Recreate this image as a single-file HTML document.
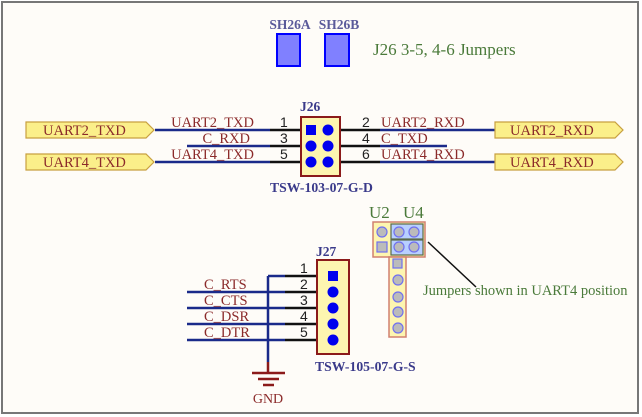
<!DOCTYPE html>
<html><head><style>body{margin:0;background:#fff}svg{display:block}</style></head><body>
<svg width="642" height="417" viewBox="0 0 642 417" xmlns="http://www.w3.org/2000/svg" font-family="Liberation Serif, serif">
<rect x="0" y="0" width="642" height="417" fill="#fff"/>
<rect x="2" y="2" width="636" height="411" fill="#fefcf8" stroke="#777" stroke-width="2"/>
<!-- SH26 -->
<text x="290" y="29" font-size="13.5" font-weight="bold" fill="#5a5a9a" text-anchor="middle">SH26A</text>
<text x="339" y="29" font-size="13.5" font-weight="bold" fill="#5a5a9a" text-anchor="middle">SH26B</text>
<rect x="277" y="34" width="23" height="32" fill="#8080ff" stroke="#0000ff" stroke-width="2"/>
<rect x="325" y="34" width="24" height="32" fill="#8080ff" stroke="#0000ff" stroke-width="2"/>
<text x="373" y="55" font-size="17" fill="#4a7a3a">J26 3-5, 4-6 Jumpers</text>
<!-- J26 wires -->
<g stroke-width="2.5">
<line x1="155" y1="130" x2="270" y2="130" stroke="#1a2a8a"/>
<line x1="187" y1="146" x2="270" y2="146" stroke="#1a2a8a"/>
<line x1="155" y1="162" x2="270" y2="162" stroke="#1a2a8a"/>
<line x1="270" y1="130" x2="312" y2="130" stroke="#111"/>
<line x1="270" y1="146" x2="312" y2="146" stroke="#111"/>
<line x1="270" y1="162" x2="312" y2="162" stroke="#111"/>
<line x1="328" y1="130" x2="380" y2="130" stroke="#111"/>
<line x1="328" y1="146" x2="380" y2="146" stroke="#111"/>
<line x1="328" y1="162" x2="380" y2="162" stroke="#111"/>
<line x1="380" y1="130" x2="495" y2="130" stroke="#1a2a8a"/>
<line x1="380" y1="146" x2="447" y2="146" stroke="#1a2a8a"/>
<line x1="380" y1="162" x2="495" y2="162" stroke="#1a2a8a"/>
</g>
<rect x="301" y="117" width="39" height="59" fill="#fdf5b0" stroke="#8b1a1a" stroke-width="2"/>
<rect x="306" y="125" width="10" height="10" fill="#0000ee"/>
<g fill="#0000ee"><circle cx="328" cy="130" r="5.5"/><circle cx="311" cy="146" r="5.5"/><circle cx="328" cy="146" r="5.5"/><circle cx="311" cy="162" r="5.5"/><circle cx="328" cy="162" r="5.5"/></g>
<text x="300" y="111" font-size="13.5" font-weight="bold" fill="#3a3a8a">J26</text>
<text x="270" y="192" font-size="13.7" font-weight="bold" fill="#3a3a8a">TSW-103-07-G-D</text>
<g font-family="Liberation Sans, sans-serif" font-size="14" fill="#222">
<text x="280" y="127">1</text><text x="280" y="143">3</text><text x="280" y="159">5</text>
<text x="362" y="127">2</text><text x="362" y="143">4</text><text x="362" y="159">6</text>
</g>
<g font-size="14.5" fill="#8b2a2a">
<text x="254" y="127" text-anchor="end">UART2_TXD</text>
<text x="250" y="143" text-anchor="end">C_RXD</text>
<text x="254" y="159" text-anchor="end">UART4_TXD</text>
<text x="381" y="127">UART2_RXD</text>
<text x="381" y="143">C_TXD</text>
<text x="381" y="159">UART4_RXD</text>
</g>
<!-- ports -->
<g fill="#fbef8a" stroke="#c8a040" stroke-width="1.2">
<polygon points="26,122 146,122 154,130 146,138 26,138"/>
<polygon points="26,154 146,154 154,162 146,170 26,170"/>
<polygon points="495,122 615,122 623,130 615,138 495,138"/>
<polygon points="495,154 615,154 623,162 615,170 495,170"/>
</g>
<g font-size="14.5" fill="#8b2a2a">
<text x="43" y="135">UART2_TXD</text><text x="43" y="167">UART4_TXD</text>
<text x="510" y="135">UART2_RXD</text><text x="510" y="167">UART4_RXD</text>
</g>
<!-- J27 -->
<g stroke-width="2.5">
<line x1="268" y1="276" x2="268" y2="362" stroke="#1a2a8a"/>
<line x1="268" y1="362" x2="268" y2="372" stroke="#8b1a1a"/>
<line x1="268" y1="276" x2="285" y2="276" stroke="#1a2a8a"/>
<line x1="187" y1="292" x2="285" y2="292" stroke="#1a2a8a"/>
<line x1="187" y1="308" x2="285" y2="308" stroke="#1a2a8a"/>
<line x1="187" y1="324" x2="285" y2="324" stroke="#1a2a8a"/>
<line x1="187" y1="340" x2="285" y2="340" stroke="#1a2a8a"/>
<line x1="285" y1="276" x2="333" y2="276" stroke="#111"/>
<line x1="285" y1="292" x2="333" y2="292" stroke="#111"/>
<line x1="285" y1="308" x2="333" y2="308" stroke="#111"/>
<line x1="285" y1="324" x2="333" y2="324" stroke="#111"/>
<line x1="285" y1="340" x2="333" y2="340" stroke="#111"/>
</g>
<g stroke="#8b1a1a" stroke-width="2.5"><line x1="252" y1="373" x2="285" y2="373"/><line x1="258" y1="379" x2="279" y2="379"/><line x1="263" y1="385" x2="274" y2="385"/></g>
<text x="268" y="403" font-size="14" fill="#8b2a2a" text-anchor="middle">GND</text>
<rect x="317" y="260" width="32" height="94" fill="#fdf5b0" stroke="#8b1a1a" stroke-width="2"/>
<rect x="328" y="271" width="10" height="10" fill="#0000ee"/>
<g fill="#0000ee"><circle cx="333" cy="292" r="5.5"/><circle cx="333" cy="308" r="5.5"/><circle cx="333" cy="324" r="5.5"/><circle cx="333" cy="340" r="5.5"/></g>
<text x="316" y="256" font-size="13.5" font-weight="bold" fill="#3a3a8a">J27</text>
<text x="315" y="371" font-size="13.7" font-weight="bold" fill="#3a3a8a">TSW-105-07-G-S</text>
<g font-family="Liberation Sans, sans-serif" font-size="14" fill="#222">
<text x="300" y="273">1</text><text x="300" y="289">2</text><text x="300" y="305">3</text><text x="300" y="321">4</text><text x="300" y="337">5</text>
</g>
<g font-size="14.5" fill="#8b2a2a">
<text x="204" y="289">C_RTS</text><text x="204" y="305">C_CTS</text><text x="204" y="321">C_DSR</text><text x="204" y="337">C_DTR</text>
</g>
<!-- U2/U4 -->
<text x="369" y="218" font-size="17" fill="#4a7a3a">U2</text>
<text x="403" y="218" font-size="17" fill="#4a7a3a">U4</text>
<rect x="373" y="222" width="52" height="35" fill="#fdf5b0" stroke="#d08070" stroke-width="1.5"/>
<rect x="389" y="257" width="17" height="80" fill="#fdf5b0" stroke="#d08070" stroke-width="1.5"/>
<rect x="391" y="224" width="32" height="15" fill="#b8d0ff" stroke="#5a6a4a" stroke-width="1.2"/>
<rect x="391" y="240" width="32" height="15" fill="#b8d0ff" stroke="#5a6a4a" stroke-width="1.2"/>
<g fill="#bbb" stroke="#7070f0" stroke-width="1.2">
<circle cx="382" cy="232" r="5"/><rect x="377" y="242" width="10" height="10"/>
<circle cx="399" cy="232" r="5"/><circle cx="414" cy="232" r="5"/>
<circle cx="399" cy="247" r="5"/><circle cx="414" cy="247" r="5"/>
<rect x="393" y="259" width="9" height="9"/>
<circle cx="398" cy="280" r="5"/><circle cx="398" cy="297" r="5"/><circle cx="398" cy="312" r="5"/><circle cx="398" cy="328" r="5"/>
</g>
<line x1="428" y1="242" x2="476" y2="287" stroke="#111" stroke-width="1.5"/>
<text x="423" y="295" font-size="14.5" fill="#4a7a3a">Jumpers shown in UART4 position</text>
</svg>
</body></html>
